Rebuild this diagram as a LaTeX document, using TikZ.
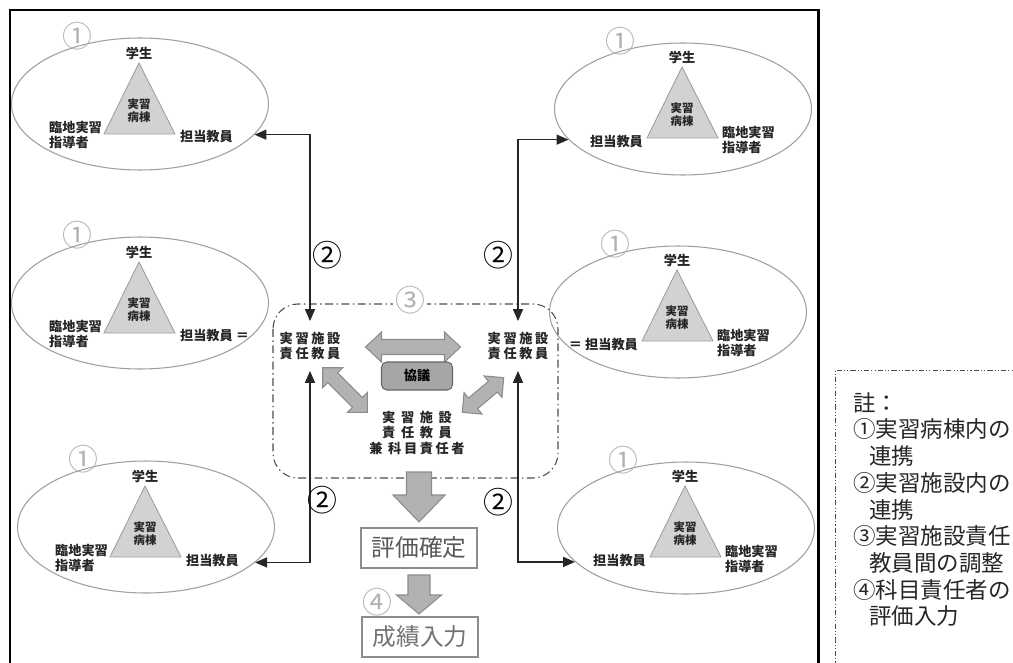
\documentclass[tikz,border=0pt]{standalone}
\usepackage{fontspec}
\setmainfont{Noto Sans CJK JP}
\newfontfamily\spacedfont[LetterSpace=20]{Noto Sans CJK JP}
\usetikzlibrary{positioning, shapes.geometric, arrows.meta, calc}
\tikzset{
    group/.style={ellipse, draw=gray!75, line width=0.6pt, minimum width=5.14cm, minimum height=2.64cm, inner sep=0pt},
    ward/.style={draw=gray!75, fill=gray!35, line width=0.5pt},
    tag/.style={font=\fontsize{7.5}{9}\selectfont\bfseries, text=black!85, inner sep=1pt},
    wardtext/.style={font=\fontsize{6.5}{7.4}\selectfont\bfseries, text=black!85, align=center, inner sep=0pt},
    num/.style={font=\fontsize{17}{17}\selectfont, inner sep=0pt},
    chief/.style={font=\spacedfont\fontsize{7.5}{8.8}\selectfont\bfseries, text=black!85, align=center, inner xsep=1pt, inner ysep=6pt},
    talkbox/.style={draw=black!60, fill=black!35, rounded corners=3pt, line width=0.6pt, minimum width=1.42cm, minimum height=0.56cm, font=\fontsize{7.5}{8}\selectfont\bfseries, inner sep=0pt},
    link/.style={draw=black!85, line width=0.9pt, {Triangle[length=2.4mm, width=2mm]}-{Triangle[length=2.4mm, width=2mm]}},
    bigarrow/.style={draw=black!45, fill=gray!60, line width=0.6pt, line join=miter},
    result/.style={draw=black!45, line width=0.8pt, minimum width=2.32cm, minimum height=0.8cm, font=\fontsize{13.5}{14}\selectfont, inner sep=0pt},
    zone/.style={draw=black!70, line width=0.6pt, rounded corners=0.5cm, dash pattern=on 4.5pt off 2pt on 0.8pt off 2pt},
    notebox/.style={draw=black!70, line width=0.5pt, dash pattern=on 3pt off 1.2pt on 0.6pt off 1.2pt on 0.6pt off 1.2pt},
    notes/.style={font=\fontsize{12.8}{15.2}\selectfont, text=black!85, align=left, inner sep=0pt}
}

\begin{document}
\begin{tikzpicture}[x=0.02cm, y=-0.02cm]
\path[use as bounding box, clip] (0,0) rectangle (1013,662);
\fill[white] (0,0) rectangle (1013,662);

% outer frame
\draw[line width=1.7pt] (10,10) rectangle (818,700);

% wards on the left
\begin{scope}[shift={(140,104)}]
    \node[group] (L1e) at (0,0) {};
    \draw[ward] (-1,-41) -- (35,30) -- (-36,30) -- cycle;
    \node[tag, anchor=south] (L1s) at (-1,-42) {学生};
    \node[wardtext] (L1w) at (-1,7) {実習\\病棟};
    \node[tag, align=left, anchor=east] (L1m) at (-36,31) {臨地実習\\指導者};
    \node[tag, anchor=west] (L1t) at (38,33) {担当教員};
    \node[num, text=gray!60, yshift=0.2cm] (L1n) at (L1e.137) {①};
\end{scope}

\begin{scope}[shift={(140,303)}]
    \node[group] (L2e) at (0,0) {};
    \draw[ward] (-1,-41) -- (35,30) -- (-36,30) -- cycle;
    \node[tag, anchor=south] (L2s) at (-1,-42) {学生};
    \node[wardtext] (L2w) at (-1,7) {実習\\病棟};
    \node[tag, align=left, anchor=east] (L2m) at (-36,31) {臨地実習\\指導者};
    \node[tag, anchor=west] (L2t) at (38,33) {担当教員 ＝};
    \node[num, text=gray!60, yshift=0.2cm] (L2n) at (L2e.137) {①};
\end{scope}

\begin{scope}[shift={(146,527)}]
    \node[group] (L3e) at (0,0) {};
    \draw[ward] (-1,-41) -- (35,30) -- (-36,30) -- cycle;
    \node[tag, anchor=south] (L3s) at (-1,-42) {学生};
    \node[wardtext] (L3w) at (-1,7) {実習\\病棟};
    \node[tag, align=left, anchor=east] (L3m) at (-36,31) {臨地実習\\指導者};
    \node[tag, anchor=west] (L3t) at (38,34) {担当教員};
    \node[num, text=gray!60, yshift=0.2cm] (L3n) at (L3e.137) {①};
\end{scope}

% wards on the right
\begin{scope}[shift={(683,109)}]
    \node[group] (R1e) at (0,0) {};
    \draw[ward] (-1,-42) -- (35,29) -- (-36,29) -- cycle;
    \node[tag, anchor=south] (R1s) at (-1,-43) {学生};
    \node[wardtext] (R1w) at (-1,6) {実習\\病棟};
    \node[tag, align=left, anchor=west] (R1m) at (37,31) {臨地実習\\指導者};
    \node[tag, anchor=east] (R1t) at (-38,33) {担当教員};
    \node[num, text=gray!60, yshift=0.2cm] (R1n) at (R1e.137) {①};
\end{scope}

\begin{scope}[shift={(678,312)}]
    \node[group] (R2e) at (0,0) {};
    \draw[ward] (-1,-42) -- (35,29) -- (-36,29) -- cycle;
    \node[tag, anchor=south] (R2s) at (-1,-43) {学生};
    \node[wardtext] (R2w) at (-1,6) {実習\\病棟};
    \node[tag, align=left, anchor=west] (R2m) at (37,31) {臨地実習\\指導者};
    \node[tag, anchor=east] (R2t) at (-38,33) {＝ 担当教員};
    \node[num, text=gray!60, yshift=0.2cm] (R2n) at (R2e.137) {①};
\end{scope}

\begin{scope}[shift={(686,528)}]
    \node[group] (R3e) at (0,0) {};
    \draw[ward] (-1,-42) -- (35,29) -- (-36,29) -- cycle;
    \node[tag, anchor=south] (R3s) at (-1,-43) {学生};
    \node[wardtext] (R3w) at (-1,6) {実習\\病棟};
    \node[tag, align=left, anchor=west] (R3m) at (37,31) {臨地実習\\指導者};
    \node[tag, anchor=east] (R3t) at (-38,33) {担当教員};
    \node[num, text=gray!60, yshift=0.2cm] (R3n) at (R3e.137) {①};
\end{scope}

% coordination zone
\draw[zone] (273,304) rectangle (558,478);
\node[num, text=gray!60, fill=white, inner sep=1pt] (z3) at (410,300) {③};

\node[chief] (LT) at (310,346) {実習施設\\責任教員};
\node[chief] (RT) at (518,346) {実習施設\\責任教員};
\node[chief] (CT) at (417,433) {実 習 施 設\\責 任 教 員\\兼 科目責任者};

% consultation arrows
\begin{scope}[shift={(413,347)}]
    \draw[bigarrow] (-47.5,0) -- (-31.5,-15) -- (-31.5,-7.5) -- (31.5,-7.5) -- (31.5,-15) -- (47.5,0) -- (31.5,15) -- (31.5,7.5) -- (-31.5,7.5) -- (-31.5,15) -- cycle;
\end{scope}
\node[talkbox] (kyogi) at (417,376) {協議};
\begin{scope}[shift={(345,390)}, rotate=-45]
    \draw[bigarrow] (-31.5,0) -- (-17.5,-14) -- (-17.5,-7) -- (17.5,-7) -- (17.5,-14) -- (31.5,0) -- (17.5,14) -- (17.5,7) -- (-17.5,7) -- (-17.5,14) -- cycle;
\end{scope}
\begin{scope}[shift={(483,395)}, rotate=40]
    \draw[bigarrow] (-27,0) -- (-13,-14) -- (-13,-7) -- (13,-7) -- (13,-14) -- (27,0) -- (13,14) -- (13,7) -- (-13,7) -- (-13,14) -- cycle;
\end{scope}

% links between wards and chiefs
\draw[link] (L1e.-15) -| (LT.north);
\draw[link] (LT.south) |- (L3e.-18);
\draw[link] (R1e.195) -| (RT.north);
\draw[link] (RT.south) |- (R3e.197);
\node[num] (n2a) at (327,255) {②};
\node[num] (n2b) at (498,255) {②};
\node[num] (n2c) at (322,500) {②};
\node[num] (n2d) at (498,502) {②};

% evaluation flow
\node[result, text=black!65] (fix) at (419,548) {評価確定};
\node[result, text=black!55] (grade) at (420,637) {成績入力};
\begin{scope}[shift={(419,497)}]
    \draw[bigarrow] (-12.5,-25) -- (12.5,-25) -- (12.5,-2) -- (26,-2) -- (0,25) -- (-26,-2) -- (-12.5,-2) -- cycle;
\end{scope}
\begin{scope}[shift={(419,595)}]
    \draw[bigarrow] (-11,-20) -- (11,-20) -- (11,0) -- (22.5,0) -- (0,19) -- (-22.5,0) -- (-11,0) -- cycle;
\end{scope}
\node[num, text=gray!60] (n4) at (377,602) {④};

% legend
\draw[notebox] (1020,370) -- (835,370) -- (835,670);
\node[notes, anchor=north west] (legend) at (853,392) {註：\\①実習病棟内の\\\hspace*{0.7em}連携\\②実習施設内の\\\hspace*{0.7em}連携\\③実習施設責任\\\hspace*{0.7em}教員間の調整\\④科目責任者の\\\hspace*{0.7em}評価入力};
\end{tikzpicture}
\end{document}
